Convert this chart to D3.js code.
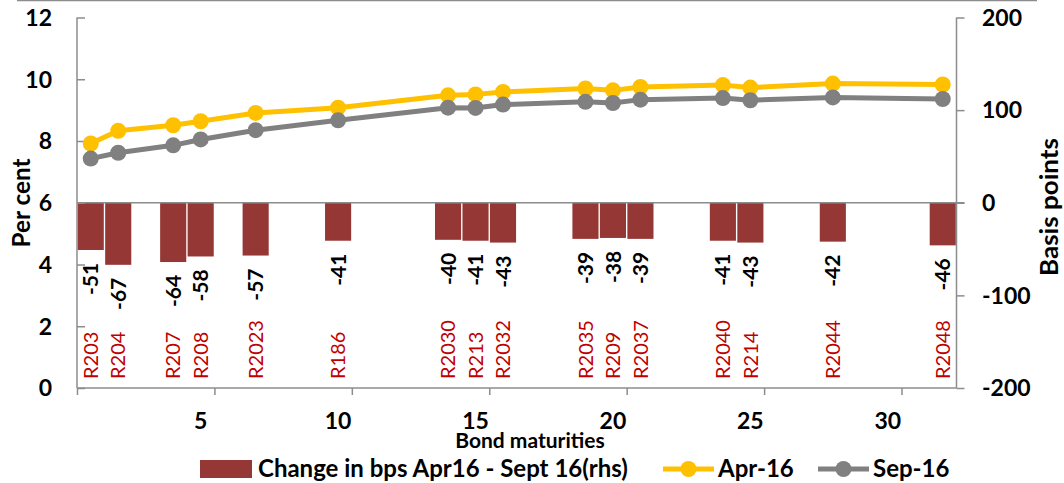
<!DOCTYPE html>
<html>
<head>
<meta charset="utf-8">
<script src="https://cdn.jsdelivr.net/npm/d3@7"></script>
<style>
  html, body { margin: 0; padding: 0; background: #fff; }
  svg { display: block; }
  text { font-family: Lato, "Open Sans", sans-serif; }
</style>
</head>
<body>
<svg id="chart" width="1064" height="483"></svg>
<script>
// ---- data ----
const maturities = [1, 2, 4, 5, 7, 10, 14, 15, 16, 19, 20, 21, 24, 25, 28, 32];
const bonds = ["R203", "R204", "R207", "R208", "R2023", "R186", "R2030", "R213", "R2032",
               "R2035", "R209", "R2037", "R2040", "R214", "R2044", "R2048"];
const apr16 = [7.92, 8.33, 8.51, 8.64, 8.91, 9.08, 9.48, 9.51, 9.59, 9.70, 9.64, 9.75, 9.81, 9.73, 9.86, 9.83];
const sep16 = [7.43, 7.62, 7.86, 8.05, 8.35, 8.67, 9.08, 9.07, 9.18, 9.27, 9.23, 9.34, 9.39, 9.32, 9.41, 9.36];
const changeBps = [-51, -67, -64, -58, -57, -41, -40, -41, -43, -39, -38, -39, -41, -43, -42, -46];
const leftTicks = [0, 2, 4, 6, 8, 10, 12];
const rightTicks = [-200, -100, 0, 100, 200];
const xTickLabels = [5, 10, 15, 20, 25, 30];
const xTickMarks = [0, 5, 10, 15, 20, 25, 30];
const seriesNames = ["Change in bps Apr16 - Sept 16(rhs)", "Apr-16", "Sep-16"];

// ---- layout ----
const L = 77, R = 956.5, T = 17.5, B = 388;
const axisColor = "#8c8c8c";
const barColor = "#953735";
const aprColor = "#FFC000";
const sepColor = "#808080";
const redText = "#C00000";

const svg = d3.select("#chart");
const x = d3.scaleLinear().domain([0.5, 32.5]).range([L, R]);
const yL = d3.scaleLinear().domain([0, 12]).range([B, T]);
const yR = d3.scaleLinear().domain([-200, 200]).range([B, T]);
const barW = x(1.45) - x(0.5);

const data = maturities.map((m, i) => ({m, bond: bonds[i], apr: apr16[i], sep: sep16[i], chg: changeBps[i]}));

// top border
svg.append("line").attr("x1", 17).attr("x2", 1037).attr("y1", 0.5).attr("y2", 0.5)
  .attr("stroke", axisColor).attr("stroke-width", 1.5);

// bars
svg.append("g").selectAll("rect").data(data).join("rect")
  .attr("x", d => x(d.m) - barW / 2)
  .attr("width", barW)
  .attr("y", yR(0))
  .attr("height", d => yR(d.chg) - yR(0))
  .attr("fill", barColor);

// zero line (secondary category axis)
svg.append("line").attr("x1", L).attr("x2", R + 8).attr("y1", yR(0)).attr("y2", yR(0))
  .attr("stroke", axisColor).attr("stroke-width", 1.5);

// left axis
const gL = svg.append("g").attr("transform", `translate(${L},0)`);
gL.call(d3.axisRight(yL).tickValues(leftTicks).tickSize(8).tickFormat(""));
gL.select(".domain").attr("d", `M0,${T}V${B}`);
gL.selectAll("line, path").attr("stroke", axisColor).attr("stroke-width", 1.5);
svg.append("g").selectAll("text").data(leftTicks).join("text")
  .attr("x", 52).attr("y", d => yL(d)).attr("dy", "0.36em")
  .attr("text-anchor", "end").attr("font-weight", "bold").attr("font-size", 23)
  .text(d => d);

// right axis
const gR = svg.append("g").attr("transform", `translate(${R},0)`);
gR.call(d3.axisRight(yR).tickValues(rightTicks).tickSize(8).tickFormat(""));
gR.select(".domain").attr("d", `M0,${T}V${B}`);
gR.selectAll("line, path").attr("stroke", axisColor).attr("stroke-width", 1.5);
svg.append("g").selectAll("text").data(rightTicks).join("text")
  .attr("x", 982).attr("y", d => yR(d)).attr("dy", "0.36em")
  .attr("text-anchor", "start").attr("font-weight", "bold").attr("font-size", 23)
  .text(d => d);

// bottom axis (ticks between categories)
const gB = svg.append("g").attr("transform", `translate(0,${B})`);
gB.call(d3.axisBottom(x).tickValues(xTickMarks.map(v => v + 0.5)).tickSize(7).tickFormat(""));
gB.select(".domain").attr("d", `M${L},0H${R}`);
gB.selectAll("line, path").attr("stroke", axisColor).attr("stroke-width", 1.5);
svg.append("g").selectAll("text").data(xTickLabels).join("text")
  .attr("x", d => x(d)).attr("y", 429)
  .attr("text-anchor", "middle").attr("font-weight", "bold").attr("font-size", 23)
  .text(d => d);

// axis titles
svg.append("text").attr("transform", "translate(30,203) rotate(-90)")
  .attr("text-anchor", "middle").attr("font-weight", "bold").attr("font-size", 24)
  .attr("textLength", 89).attr("lengthAdjust", "spacingAndGlyphs")
  .text("Per cent");
svg.append("text").attr("transform", "translate(1058,207) rotate(-90)")
  .attr("text-anchor", "middle").attr("font-weight", "bold").attr("font-size", 24)
  .attr("textLength", 138).attr("lengthAdjust", "spacingAndGlyphs")
  .text("Basis points");
svg.append("text").attr("x", 530).attr("y", 448)
  .attr("text-anchor", "middle").attr("font-weight", "bold").attr("font-size", 21)
  .text("Bond maturities");

// bar value labels
svg.append("g").selectAll("text").data(data).join("text")
  .attr("transform", d => `translate(${x(d.m)},${yR(d.chg) + 29}) rotate(-90)`)
  .attr("dy", "0.36em").attr("text-anchor", "middle")
  .attr("font-weight", "bold").attr("font-size", 21).attr("fill", "#000")
  .text(d => d.chg);

// bond name labels
svg.append("g").selectAll("text").data(data).join("text")
  .attr("transform", d => `translate(${x(d.m)},379) rotate(-90)`)
  .attr("dy", "0.36em").attr("text-anchor", "start")
  .attr("font-size", 20).attr("fill", redText)
  .text(d => d.bond);

// lines
const lineFor = key => d3.line().x(d => x(d.m)).y(d => yL(d[key]));
[["apr", aprColor], ["sep", sepColor]].forEach(([key, col]) => {
  svg.append("path").datum(data).attr("d", lineFor(key))
    .attr("fill", "none").attr("stroke", col).attr("stroke-width", 5).attr("stroke-linejoin", "round");
  svg.append("g").selectAll("circle").data(data).join("circle")
    .attr("cx", d => x(d.m)).attr("cy", d => yL(d[key])).attr("r", 8).attr("fill", col);
});

// legend
const lg = svg.append("g");
const legY = 469;
lg.append("rect").attr("x", 200).attr("y", legY - 9).attr("width", 52).attr("height", 18).attr("fill", barColor);
lg.append("text").attr("x", 258).attr("y", legY + 8).attr("font-weight", "bold").attr("font-size", 24)
  .text(seriesNames[0]);
[[663, aprColor, seriesNames[1]], [818, sepColor, seriesNames[2]]].forEach(([lx, col, name]) => {
  lg.append("line").attr("x1", lx).attr("x2", lx + 51).attr("y1", legY).attr("y2", legY)
    .attr("stroke", col).attr("stroke-width", 5);
  lg.append("circle").attr("cx", lx + 25.5).attr("cy", legY).attr("r", 8).attr("fill", col);
  lg.append("text").attr("x", lx + 55).attr("y", legY + 8).attr("font-weight", "bold").attr("font-size", 24)
    .text(name);
});
</script>
</body>
</html>
